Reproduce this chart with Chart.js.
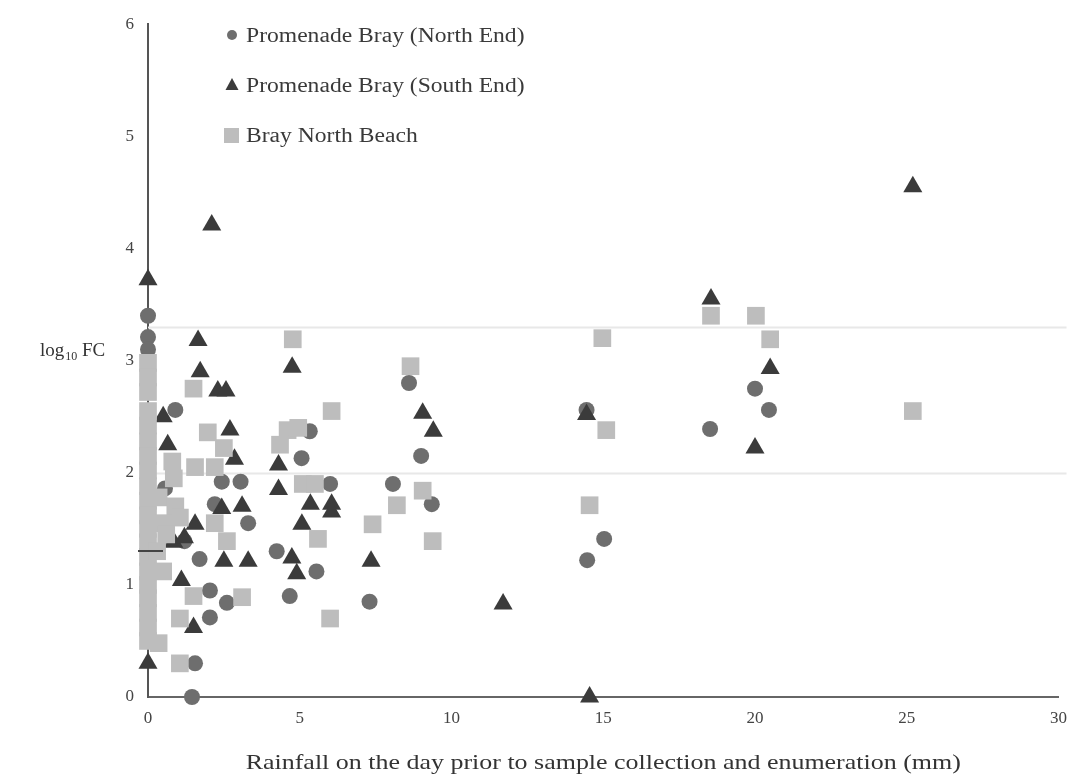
<!DOCTYPE html>
<html>
<head>
<meta charset="utf-8">
<script src="https://cdn.jsdelivr.net/npm/chart.js@4.4.0/dist/chart.umd.min.js"></script>
<style>
  html, body { margin: 0; padding: 0; background: #ffffff; }
  #wrap { width: 1078px; height: 780px; }
</style>
</head>
<body>
<div id="wrap"><canvas id="chart" width="1078" height="780"></canvas></div>
<script>
// Rainfall (mm) on the day before sampling, and log10 faecal coliform counts
const northEndRain = [0, 0, 0, 0, 0.90, 0.56, 0.66, 1.20, 1.70, 2.43, 3.05, 2.20, 3.30, 2.04, 2.60, 2.04, 1.55, 1.45,
  4.24, 5.55, 4.67, 7.30, 5.33, 5.06, 6.00, 8.07, 8.60, 9.00, 9.35, 14.45, 15.03, 14.47, 20.00, 20.46, 18.52];
const northEndFC = [3.40, 3.21, 3.10, 0.73, 2.56, 1.86, 1.41, 1.39, 1.23, 1.92, 1.92, 1.72, 1.55, 0.95, 0.84, 0.71, 0.30, 0.00,
  1.30, 1.12, 0.90, 0.85, 2.37, 2.13, 1.90, 1.90, 2.80, 2.15, 1.72, 2.56, 1.41, 1.22, 2.75, 2.56, 2.39];

const southEndRain = [0, 0, 2.10, 25.20, 18.55, 1.65, 1.72, 2.30, 2.57, 4.75, 2.70, 0.50, 0.65, 2.85, 4.30, 4.30,
  5.35, 6.05, 6.05, 5.07, 4.74, 4.90, 7.35, 9.05, 9.40, 14.45, 14.55, 11.70, 20.00, 20.50,
  1.55, 2.43, 3.10, 2.50, 3.30, 1.10, 1.50, 0.85, 1.20];
const southEndFC = [3.72, 0.30, 4.21, 4.55, 3.55, 3.18, 2.90, 2.73, 2.73, 2.94, 2.38, 2.50, 2.25, 2.12, 2.07, 1.85,
  1.72, 1.72, 1.65, 1.54, 1.24, 1.10, 1.21, 2.53, 2.37, 2.52, 0.00, 0.83, 2.22, 2.93,
  1.54, 1.68, 1.70, 1.21, 1.21, 1.04, 0.62, 1.38, 1.42];

const northBeachRain = [0, 0, 0, 0, 0, 0, 0, 0, 0, 0, 0, 0, 0, 0, 0, 0, 0, 0, 0, 0,
  0.35, 0.90, 1.05, 0.50, 0.30, 0.60, 0.50, 0.35,
  0.80, 0.85, 1.55, 2.20, 2.50, 1.97, 1.50,
  4.77, 14.97, 18.55, 20.03, 20.50, 25.20,
  8.65, 15.10, 9.05, 8.20, 9.38, 14.55,
  6.05, 4.60, 4.35, 4.95, 5.10, 5.50,
  7.40, 5.60, 6.00, 3.10, 1.50, 1.05, 1.05, 2.60, 2.20];
const northBeachFC = [2.98, 2.85, 2.72, 2.55, 2.42, 2.28, 2.15, 2.02, 1.88, 1.75, 1.62, 1.50, 1.38, 1.25, 1.12, 1.00, 0.88, 0.75, 0.62, 0.50,
  1.78, 1.70, 1.60, 1.55, 1.30, 1.45, 1.12, 0.48,
  2.10, 1.95, 2.05, 2.05, 2.22, 2.36, 2.75,
  3.19, 3.20, 3.40, 3.40, 3.19, 2.55,
  2.95, 2.38, 1.84, 1.71, 1.39, 1.71,
  2.55, 2.38, 2.25, 2.40, 1.90, 1.90,
  1.54, 1.41, 0.70, 0.89, 0.90, 0.70, 0.30, 1.39, 1.55];

const seriesNames = ['Promenade Bray (North End)', 'Promenade Bray (South End)', 'Bray North Beach'];
const xTicks = [0, 5, 10, 15, 20, 25, 30];
const yTicks = [0, 1, 2, 3, 4, 5, 6];
// guideline levels (log10 of 100 and 2000) and the short mark at log10 20
const guideLevels = [2.0, 3.3];
const shortMarkLevel = 1.3;

const toPoints = (xs, ys) => xs.map((x, i) => ({ x: x, y: ys[i] }));

const SERIF = '"Liberation Serif", "DejaVu Serif", serif';
const COL_CIRCLE = '#6e6e6e';
const COL_TRI = '#3b3b3b';
const COL_SQ = '#bdbdbd';
const TEXT_STRETCH = 1.18;

// draws text widened horizontally, starting (align left) or centred at x
function wideText(ctx, text, x, y, align) {
  const w = ctx.measureText(text).width * TEXT_STRETCH;
  const startX = align === 'center' ? x - w / 2 : x;
  ctx.save();
  ctx.textAlign = 'left';
  ctx.translate(startX, y);
  ctx.scale(TEXT_STRETCH, 1);
  ctx.fillText(text, 0, 0);
  ctx.restore();
  return w;
}

const guidePlugin = {
  id: 'guides',
  beforeDatasetsDraw(chart) {
    const { ctx, chartArea, scales } = chart;
    ctx.save();
    ctx.strokeStyle = '#e8e8e8';
    ctx.lineWidth = 2;
    guideLevels.forEach(v => {
      const y = Math.round(scales.y.getPixelForValue(v)) + 0.5;
      ctx.beginPath();
      ctx.moveTo(chartArea.left, y);
      ctx.lineTo(chartArea.right + 8, y);
      ctx.stroke();
    });
    ctx.restore();
  },
  afterDatasetsDraw(chart) {
    const { ctx, scales } = chart;
    ctx.save();
    ctx.strokeStyle = '#444';
    ctx.lineWidth = 2;
    const y = Math.round(scales.y.getPixelForValue(shortMarkLevel));
    const x0 = scales.x.getPixelForValue(0);
    ctx.beginPath();
    ctx.moveTo(x0 - 10, y);
    ctx.lineTo(x0 + 15, y);
    ctx.stroke();
    ctx.restore();
  }
};

const textPlugin = {
  id: 'texts',
  afterDraw(chart) {
    const { ctx, scales } = chart;
    ctx.save();
    ctx.fillStyle = '#333';
    ctx.textBaseline = 'alphabetic';

    // y-axis title with subscript
    ctx.textAlign = 'left';
    let x = 40;
    const base = 356;
    ctx.font = '19px ' + SERIF;
    ctx.fillText('log', x, base);
    x += ctx.measureText('log').width + 1;
    ctx.font = '12px ' + SERIF;
    ctx.fillText('10', x, base + 4);
    x += ctx.measureText('10').width;
    ctx.font = '19px ' + SERIF;
    ctx.fillText(' FC', x, base);

    // x-axis title
    ctx.font = '22px ' + SERIF;
    wideText(ctx, 'Rainfall on the day prior to sample collection and enumeration (mm)',
      (scales.x.left + scales.x.right) / 2, 769, 'center');

    // legend
    const lx = 232;
    const rows = [35, 85, 135];
    ctx.font = '20px ' + SERIF;
    ctx.fillStyle = '#3a3a3a';
    seriesNames.forEach((name, i) => {
      wideText(ctx, name, lx + 14, rows[i] + 7, 'left');
    });
    // markers
    ctx.fillStyle = COL_CIRCLE;
    ctx.beginPath();
    ctx.arc(lx, rows[0], 5, 0, Math.PI * 2);
    ctx.fill();
    ctx.fillStyle = COL_TRI;
    ctx.beginPath();
    ctx.moveTo(lx, rows[1] - 7);
    ctx.lineTo(lx + 6.5, rows[1] + 5);
    ctx.lineTo(lx - 6.5, rows[1] + 5);
    ctx.closePath();
    ctx.fill();
    ctx.fillStyle = COL_SQ;
    ctx.fillRect(lx - 8, rows[2] - 7, 15, 15);
    ctx.restore();
  }
};

const ctx = document.getElementById('chart').getContext('2d');
new Chart(ctx, {
  type: 'scatter',
  data: {
    datasets: [
      {
        label: seriesNames[0],
        data: toPoints(northEndRain, northEndFC),
        pointStyle: 'circle',
        pointRadius: 8,
        backgroundColor: COL_CIRCLE,
        borderWidth: 0,
        order: 2,
        clip: false
      },
      {
        label: seriesNames[1],
        data: toPoints(southEndRain, southEndFC),
        pointStyle: 'triangle',
        pointRadius: 11,
        backgroundColor: COL_TRI,
        borderWidth: 0,
        order: 1,
        clip: false
      },
      {
        label: seriesNames[2],
        data: toPoints(northBeachRain, northBeachFC),
        pointStyle: 'rect',
        pointRadius: 12.5,
        backgroundColor: COL_SQ,
        borderWidth: 0,
        order: 0,
        clip: false
      }
    ]
  },
  options: {
    responsive: false,
    animation: false,
    events: [],
    layout: { padding: { left: 0, top: 20, right: 18, bottom: 0 }, autoPadding: false },
    plugins: {
      legend: { display: false },
      tooltip: { enabled: false }
    },
    scales: {
      x: {
        type: 'linear',
        min: 0,
        max: 30,
        afterBuildTicks(scale) { scale.ticks = xTicks.map(v => ({ value: v })); },
        afterFit(scale) { scale.height = 83; },
        grid: { display: false, drawTicks: false },
        border: { display: true, color: '#666', width: 2 },
        ticks: { padding: 11, color: '#444', font: { family: SERIF, size: 17 } }
      },
      y: {
        type: 'linear',
        min: 0,
        max: 6,
        afterBuildTicks(scale) { scale.ticks = yTicks.map(v => ({ value: v })); },
        afterFit(scale) { scale.width = 148; },
        grid: { display: false, drawTicks: false },
        border: { display: true, color: '#555', width: 2 },
        ticks: { padding: 14, color: '#444', font: { family: SERIF, size: 17 } }
      }
    }
  },
  plugins: [guidePlugin, textPlugin]
});
</script>
</body>
</html>
